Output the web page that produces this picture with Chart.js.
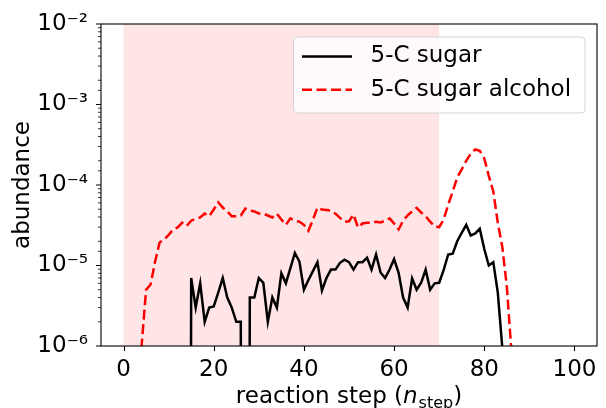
<!DOCTYPE html>
<html>
<head>
<meta charset="utf-8">
<script src="https://cdn.jsdelivr.net/npm/chart.js@4/dist/chart.umd.min.js"></script>
<style>
  html, body { margin: 0; padding: 0; background: #fff; }
  #wrap { width: 606px; height: 408px; }
</style>
</head>
<body>
<div id="wrap"><canvas id="c" width="606" height="408"></canvas></div>
<script>
// Abundance per reaction step; 0 means none detected at that step.
const sugar = [
  0, 0, 0, 0, 0, 0, 0, 0, 0, 0,
  0, 0, 0, 0, 0, 7.0e-6, 3.0e-6, 6.0e-6, 2.0e-6, 3.0e-6,
  3.1e-6, 4.6e-6, 7.0e-6, 4.0e-6, 3.0e-6, 2.0e-6, 2.0e-6, 0, 4.0e-6, 4.0e-6,
  7.0e-6, 6.1e-6, 2.0e-6, 4.0e-6, 3.0e-6, 8.0e-6, 6.0e-6, 9.3e-6, 1.43e-5, 1.12e-5,
  5.0e-6, 6.6e-6, 8.5e-6, 1.1e-5, 4.9e-6, 7.0e-6, 8.9e-6, 8.9e-6, 1.08e-5, 1.18e-5,
  1.1e-5, 8.9e-6, 1.1e-5, 1.1e-5, 1.25e-5, 8.9e-6, 1.37e-5, 8.2e-6, 7.0e-6, 8.9e-6,
  1.2e-5, 8.1e-6, 4.0e-6, 3.0e-6, 6.9e-6, 5.0e-6, 6.1e-6, 8.9e-6, 5.0e-6, 6.0e-6,
  6.1e-6, 8.8e-6, 1.37e-5, 1.4e-5, 2.0e-5, 2.55e-5, 3.2e-5, 2.36e-5, 2.5e-5, 2.86e-5,
  1.6e-5, 1.0e-5, 1.1e-5, 4.6e-6, 9.5e-7, 0, 0, 0, 0, 0,
  0, 0, 0, 0, 0, 0, 0, 0, 0, 0,
  0
];
const sugarAlcohol = [
  0, 0, 0, 0, 1.0e-6, 5.0e-6, 5.8e-6, 1.12e-5, 1.93e-5, 2.1e-5,
  2.4e-5, 2.8e-5, 2.97e-5, 3.4e-5, 3.1e-5, 3.6e-5, 3.8e-5, 3.95e-5, 4.43e-5, 4.1e-5,
  4.96e-5, 6.1e-5, 5.25e-5, 4.69e-5, 4.1e-5, 4.1e-5, 4.18e-5, 5.1e-5, 4.8e-5, 4.69e-5,
  4.43e-5, 4.4e-5, 4.18e-5, 3.95e-5, 4.4e-5, 3.73e-5, 3.2e-5, 3.85e-5, 3.6e-5, 3.5e-5,
  3.2e-5, 2.7e-5, 3.7e-5, 5.25e-5, 4.96e-5, 4.9e-5, 4.8e-5, 4.4e-5, 3.9e-5, 3.5e-5,
  3.55e-5, 4.3e-5, 2.97e-5, 3.33e-5, 3.4e-5, 3.4e-5, 3.5e-5, 3.42e-5, 3.6e-5, 3.85e-5,
  3.33e-5, 2.8e-5, 3.6e-5, 4.2e-5, 4.69e-5, 5.2e-5, 4.56e-5, 4.1e-5, 3.5e-5, 3.05e-5,
  3.0e-5, 3.73e-5, 5.7e-5, 8.3e-5, 1.24e-4, 1.56e-4, 2.0e-4, 2.45e-4, 2.76e-4, 2.66e-4,
  2.14e-4, 1.3e-4, 8.3e-5, 3.4e-5, 1.7e-5, 5.5e-6, 9.0e-7, 0, 0, 0,
  0, 0, 0, 0, 0, 0, 0, 0, 0, 0,
  0
];
const seriesNames = ['5-C sugar', '5-C sugar alcohol'];
const steps = Array.from({ length: sugar.length }, (_, i) => i);
const xTicks = [0, 20, 40, 60, 80, 100];
const shadedSteps = [0, 70];

const FONT = 'DejaVu Sans';
const FS = 23;

// Non-positive values are clipped far below the log axis so the line drops straight down.
const LOG_FLOOR = 1e-30;
const toPoints = vals => steps.map((s, i) => ({ x: s, y: vals[i] > 0 ? vals[i] : LOG_FLOOR }));

const SUP = { '0': '⁰', '1': '¹', '2': '²', '3': '³', '4': '⁴', '5': '⁵', '6': '⁶', '7': '⁷', '8': '⁸', '9': '⁹', '-': '⁻' };
const isDecade = v => Math.abs(Math.log10(v) - Math.round(Math.log10(v))) < 1e-9;
const decadeLabel = v => '10' + String(Math.round(Math.log10(v))).split('').map(c => SUP[c]).join('');

// Light red band behind the data.
const shadePlugin = {
  id: 'shade',
  beforeDatasetsDraw(chart) {
    const { ctx, chartArea: a, scales: { x } } = chart;
    const x0 = x.getPixelForValue(shadedSteps[0]);
    const x1 = x.getPixelForValue(shadedSteps[1]);
    ctx.save();
    ctx.fillStyle = 'rgba(255,0,0,0.1)';
    ctx.fillRect(x0, a.top, x1 - x0, a.bottom - a.top);
    ctx.restore();
  }
};

// Axes frame, tick marks, x-axis title and legend.
const decorPlugin = {
  id: 'decor',
  afterDraw(chart) {
    const { ctx, chartArea: a, scales: { x, y } } = chart;
    ctx.save();
    ctx.strokeStyle = '#000';
    ctx.lineWidth = 1.1;
    ctx.strokeRect(a.left, a.top, a.right - a.left, a.bottom - a.top);

    ctx.beginPath();
    x.ticks.forEach(t => {
      const px = Math.round(x.getPixelForValue(t.value)) + 0.5;
      ctx.moveTo(px, a.bottom); ctx.lineTo(px, a.bottom + 5);
    });
    y.ticks.forEach(t => {
      if (!isDecade(t.value)) return;
      const py = y.getPixelForValue(t.value);
      ctx.moveTo(a.left, py); ctx.lineTo(a.left - 5, py);
    });
    ctx.stroke();
    ctx.lineWidth = 0.8;
    ctx.beginPath();
    y.ticks.forEach(t => {
      if (isDecade(t.value)) return;
      const py = y.getPixelForValue(t.value);
      ctx.moveTo(a.left, py); ctx.lineTo(a.left - 3, py);
    });
    ctx.stroke();

    // x-axis title: reaction step (n_step)
    ctx.fillStyle = '#000';
    ctx.textBaseline = 'alphabetic';
    const partA = 'reaction step (';
    const partN = 'n';
    const partSub = 'step';
    const partC = ')';
    const fMain = FS + 'px "' + FONT + '"';
    const fItal = 'oblique ' + FS + 'px "' + FONT + '"';
    const fSub = Math.round(FS * 0.7) + 'px "' + FONT + '"';
    ctx.font = fMain; const wA = ctx.measureText(partA).width; const wC = ctx.measureText(partC).width;
    ctx.font = fItal; const wN = ctx.measureText(partN).width;
    ctx.font = fSub; const wS = ctx.measureText(partSub).width;
    const total = wA + wN + wS + 1 + wC;
    let cx = (a.left + a.right) / 2 - total / 2;
    const base = 403;
    ctx.font = fMain; ctx.fillText(partA, cx, base); cx += wA;
    ctx.font = fItal; ctx.fillText(partN, cx, base); cx += wN + 1;
    ctx.font = fSub; ctx.fillText(partSub, cx, base + 5); cx += wS;
    ctx.font = fMain; ctx.fillText(partC, cx, base);

    // Legend
    const bw = 291.5, bh = 76;
    const bx = a.right - 12 - bw, by = a.top + 13;
    ctx.beginPath();
    ctx.roundRect(bx, by, bw, bh, 4);
    ctx.fillStyle = 'rgba(255,255,255,0.8)';
    ctx.fill();
    ctx.strokeStyle = 'rgba(204,204,204,0.8)';
    ctx.lineWidth = 1;
    ctx.stroke();
    chart.data.datasets.forEach((ds, i) => {
      const ly = by + 19.5 + i * 33.3;
      ctx.beginPath();
      ctx.strokeStyle = ds.borderColor;
      ctx.lineWidth = ds.borderWidth;
      ctx.setLineDash(ds.borderDash || []);
      ctx.moveTo(bx + 8.5, ly); ctx.lineTo(bx + 58.5, ly);
      ctx.stroke();
      ctx.setLineDash([]);
      ctx.fillStyle = '#000';
      ctx.font = fMain;
      ctx.textBaseline = 'middle';
      ctx.fillText(ds.label, bx + 77, ly);
    });
    ctx.restore();
  }
};

new Chart(document.getElementById('c'), {
  type: 'line',
  data: {
    datasets: [
      { label: seriesNames[0], data: toPoints(sugar), borderColor: '#000000', borderWidth: 2.5,
        pointRadius: 0, tension: 0, fill: false },
      { label: seriesNames[1], data: toPoints(sugarAlcohol), borderColor: '#ff0000', borderWidth: 2.5,
        borderDash: [10, 4.5], pointRadius: 0, tension: 0, fill: false }
    ]
  },
  options: {
    responsive: false,
    animation: false,
    devicePixelRatio: 1,
    layout: { padding: { top: 24, right: 9, left: 0, bottom: 0 } },
    plugins: { legend: { display: false }, tooltip: { enabled: false } },
    scales: {
      x: {
        type: 'linear', min: -5, max: 105,
        afterBuildTicks: s => { s.ticks = xTicks.map(v => ({ value: v })); },
        afterFit: s => { s.height = 62; },
        grid: { display: false, drawTicks: true, tickLength: 5 },
        border: { display: false },
        ticks: { font: { family: FONT, size: FS }, color: '#000', padding: 5, maxRotation: 0, autoSkip: false }
      },
      y: {
        type: 'logarithmic', min: 1e-6, max: 1e-2,
        afterFit: s => { s.width = 101; },
        grid: { display: false, drawTicks: true, tickLength: 5 },
        border: { display: false },
        ticks: {
          autoSkip: false,
          font: { family: FONT, size: FS }, color: '#000', padding: 8,
          callback: v => isDecade(v) ? decadeLabel(v) : ''
        },
        title: { display: true, text: 'abundance', color: '#000',
                 font: { family: FONT, size: FS }, padding: { top: 9, bottom: 0 } }
      }
    }
  },
  plugins: [shadePlugin, decorPlugin]
});
</script>
</body>
</html>
